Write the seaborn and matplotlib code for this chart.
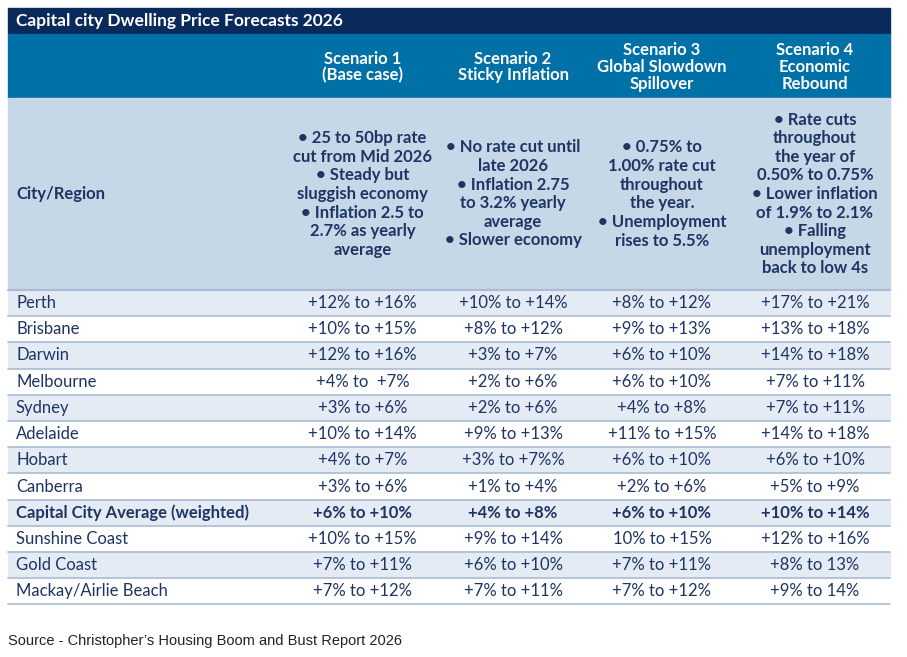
import matplotlib
matplotlib.use("Agg")
from matplotlib import pyplot as plt
from matplotlib.patches import Rectangle
import seaborn as sns

title = "Capital city Dwelling Price Forecasts 2026"
scenarios = ["Scenario 1\n(Base case)", "Scenario 2\nSticky Inflation",
             "Scenario 3\nGlobal Slowdown\nSpillover", "Scenario 4\nEconomic\nRebound"]
assumptions = [
    "• 25 to 50bp rate\ncut from Mid 2026\n• Steady but\nsluggish economy\n• Inflation 2.5 to\n2.7% as yearly\naverage",
    "• No rate cut until\nlate 2026\n• Inflation 2.75\nto 3.2% yearly\naverage\n• Slower economy",
    "• 0.75% to\n1.00% rate cut\nthroughout\nthe year.\n• Unemployment\nrises to 5.5%",
    "• Rate cuts\nthroughout\nthe year of\n0.50% to 0.75%\n• Lower inflation\nof 1.9% to 2.1%\n• Falling\nunemployment\nback to low 4s",
]
cities = ["Perth", "Brisbane", "Darwin", "Melbourne", "Sydney", "Adelaide", "Hobart",
          "Canberra", "Capital City Average (weighted)", "Sunshine Coast", "Gold Coast",
          "Mackay/Airlie Beach"]
scen1 = ["+12% to +16%", "+10% to +15%", "+12% to +16%", "+4% to  +7%", "+3% to +6%",
         "+10% to +14%", "+4% to +7%", "+3% to +6%", "+6% to +10%", "+10% to +15%",
         "+7% to +11%", "+7% to +12%"]
scen2 = ["+10% to +14%", "+8% to +12%", "+3% to +7%", "+2% to +6%", "+2% to +6%",
         "+9% to +13%", "+3% to +7%%", "+1% to +4%", "+4% to +8%", "+9% to +14%",
         "+6% to +10%", "+7% to +11%"]
scen3 = ["+8% to +12%", "+9% to +13%", "+6% to +10%", "+6% to +10%", "+4% to +8%",
         "+11% to +15%", "+6% to +10%", "+2% to +6%", "+6% to +10%", "10% to +15%",
         "+7% to +11%", "+7% to +12%"]
scen4 = ["+17% to +21%", "+13% to +18%", "+14% to +18%", "+7% to +11%", "+7% to +11%",
         "+14% to +18%", "+6% to +10%", "+5% to +9%", "+10% to +14%", "+12% to +16%",
         "+8% to 13%", "+9% to 14%"]
bold_row = "Capital City Average (weighted)"
source = "Source - Christopher’s Housing Boom and Bust Report 2026"

sns.set_theme(style="white")
plt.rcParams["font.family"] = ["Lato", "DejaVu Sans"]

navy = "#0b2a5c"
blue = "#0071a7"
pale = "#c6d7e8"
band = "#e4ebf4"
ink = "#1e3463"
grid = "#a9bcd3"

fig = plt.figure(figsize=(9.07, 6.57), dpi=100)
ax = fig.add_axes([0, 0, 1, 1])
ax.set_xlim(0, 907)
ax.set_ylim(657, 0)
ax.axis("off")

left, right = 8, 890
col_edges = [left, 283, 442, 584, 740, right]
centers = [(col_edges[i + 1] + col_edges[i + 2]) / 2 for i in range(4)]
top_title, top_head, top_desc, top_data = 8, 34, 98, 290
row_h = 26.2
fs = 12

ax.add_patch(Rectangle((left, top_title), right - left, top_head - top_title, color=navy))
ax.text(16, (top_title + top_head) / 2, title, color="white", fontsize=12.5,
        fontweight="bold", va="center")
ax.add_patch(Rectangle((left, top_head), right - left, top_desc - top_head, color=blue))
for c, s in zip(centers, scenarios):
    ax.text(c, (top_head + top_desc) / 2 + 1, s, color="white", fontsize=fs,
            fontweight="bold", ha="center", va="center", linespacing=1.05)
ax.add_patch(Rectangle((left, top_desc), right - left, top_data - top_desc, color=pale))
ax.text(16, (top_desc + top_data) / 2, "City/Region", color=ink, fontsize=fs,
        fontweight="bold", va="center")
for c, s in zip(centers, assumptions):
    ax.text(c, (top_desc + top_data) / 2, s, color=ink, fontsize=fs,
            fontweight="bold", ha="center", va="center", linespacing=1.2)
ax.plot([left, right], [top_data, top_data], color=grid, lw=1.5)

cols = [scen1, scen2, scen3, scen4]
for i, city in enumerate(cities):
    y0 = top_data + i * row_h
    ax.add_patch(Rectangle((left, y0), right - left, row_h,
                           color=band if i % 2 == 0 else "white"))
    ax.plot([left, right], [y0 + row_h, y0 + row_h], color=grid, lw=1.2)
    w = "bold" if city == bold_row else "normal"
    yc = y0 + row_h / 2
    ax.text(16, yc, city, color=ink, fontsize=fs, fontweight=w, va="center")
    for c, vals in zip(centers, cols):
        ax.text(c, yc, vals[i], color=ink, fontsize=fs, fontweight=w,
                ha="center", va="center")

ax.text(8, 641, source, color="#222222", fontsize=10.5, va="center",
        family=["Liberation Sans", "DejaVu Sans"])

fig.savefig("out.png", dpi=100)
plt.close(fig)
